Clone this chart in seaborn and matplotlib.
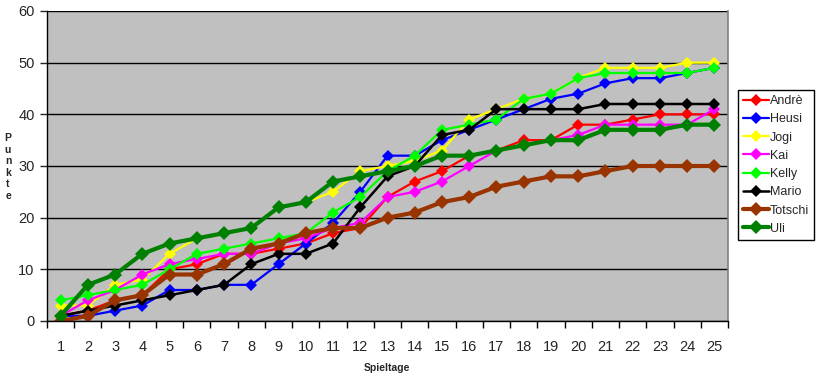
import matplotlib
matplotlib.use("Agg")
import matplotlib.pyplot as plt
import seaborn as sns
import pandas as pd
import numpy as np
from matplotlib.ticker import FixedLocator, NullFormatter

spieltage = list(range(1, 26))
names = ["Andrè", "Heusi", "Jogi", "Kai", "Kelly", "Mario", "Totschi", "Uli"]

andre   = [1, 2, 4, 5, 10, 11, 13, 13, 14, 15, 17, 18, 24, 27, 29, 32, 33, 35, 35, 38, 38, 39, 40, 40, 40]
heusi   = [1, 1, 2, 3, 6, 6, 7, 7, 11, 15, 19, 25, 32, 32, 35, 37, 39, 41, 43, 44, 46, 47, 47, 48, 49]
jogi    = [3, 3, 7, 8, 13, 16, 17, 18, 22, 23, 25, 29, 30, 31, 33, 39, 41, 43, 44, 47, 49, 49, 49, 50, 50]
kai     = [1, 4, 6, 9, 11, 12, 13, 13, 15, 16, 18, 19, 24, 25, 27, 30, 33, 34, 35, 36, 38, 38, 38, 38, 41]
kelly   = [4, 5, 6, 7, 10, 13, 14, 15, 16, 17, 21, 24, 29, 32, 37, 38, 39, 43, 44, 47, 48, 48, 48, 48, 49]
mario   = [1, 2, 3, 4, 5, 6, 7, 11, 13, 13, 15, 22, 28, 30, 36, 37, 41, 41, 41, 41, 42, 42, 42, 42, 42]
totschi = [0, 1, 4, 5, 9, 9, 11, 14, 15, 17, 18, 18, 20, 21, 23, 24, 26, 27, 28, 28, 29, 30, 30, 30, 30]
uli     = [1, 7, 9, 13, 15, 16, 17, 18, 22, 23, 27, 28, 29, 30, 32, 32, 33, 34, 35, 35, 37, 37, 37, 38, 38]

series = [andre, heusi, jogi, kai, kelly, mario, totschi, uli]
colors = ["#FF0000", "#0000FF", "#FFFF00", "#FF00FF", "#00FF00", "#000000", "#993300", "#008000"]
widths = [1.6, 1.6, 1.6, 1.6, 1.6, 1.8, 3.0, 3.0]
msizes = [6, 6, 6, 6, 6, 6, 7, 7]

sns.set_style("white")
plt.rcParams["font.family"] = ["Liberation Sans", "DejaVu Sans"]

fig = plt.figure(figsize=(8.21, 3.79), dpi=100)
ax = fig.add_axes([47 / 821, 1 - 321 / 379, (728 - 47) / 821, (321 - 11) / 379])
ax.set_facecolor("#C0C0C0")

for name, vals, col, lw, ms in zip(names, series, colors, widths, msizes):
    df = pd.DataFrame({"Spieltag": spieltage, "Punkte": vals})
    sns.lineplot(data=df, x="Spieltag", y="Punkte", ax=ax, color=col, linewidth=lw,
                 marker="D", markersize=ms, markeredgewidth=0, label=name)

ax.set_xlim(0.5, 25.5)
ax.set_ylim(0, 60)
ax.set_yticks(np.arange(0, 61, 10))
ax.set_xticks(spieltage)
ax.set_xticklabels([str(s) for s in spieltage])
ax.xaxis.set_minor_locator(FixedLocator(np.arange(0.5, 26, 1.0)))
ax.xaxis.set_minor_formatter(NullFormatter())
ax.tick_params(axis="x", which="major", length=0, pad=14, labelsize=10.5)
ax.tick_params(axis="x", which="minor", length=5, width=1, direction="out", color="black", bottom=True)
ax.tick_params(axis="y", which="major", length=5, width=1, direction="out", pad=4, labelsize=10.5, left=True)
ax.grid(axis="y", color="black", linewidth=1)
ax.set_axisbelow(True)
ax.set_xlabel("")
ax.set_ylabel("")

for s in ["left", "bottom"]:
    ax.spines[s].set_color("black")
    ax.spines[s].set_linewidth(1)
ax.spines["top"].set_visible(False)
ax.spines["right"].set_color("#808080")
ax.spines["right"].set_linewidth(1.2)

leg = ax.legend(loc="upper left", bbox_to_anchor=(737.5 / 821, 1 - 90 / 379),
                bbox_transform=fig.transFigure, frameon=True, fancybox=False,
                edgecolor="black", facecolor="white", framealpha=1,
                fontsize=9, handlelength=2.1, handletextpad=0.1, labelspacing=0.5,
                borderpad=0.4, borderaxespad=0)
leg.get_frame().set_linewidth(1)

fig.text(387 / 821, 1 - 368 / 379, "Spieltage", ha="center", va="center",
         fontsize=7.5, fontweight="bold")
fig.text(8 / 821, 1 - 167 / 379, "P\nu\nn\nk\nt\ne", ha="center", va="center",
         fontsize=7.5, fontweight="bold", linespacing=1.2)

fig.savefig("out.png", dpi=100)
